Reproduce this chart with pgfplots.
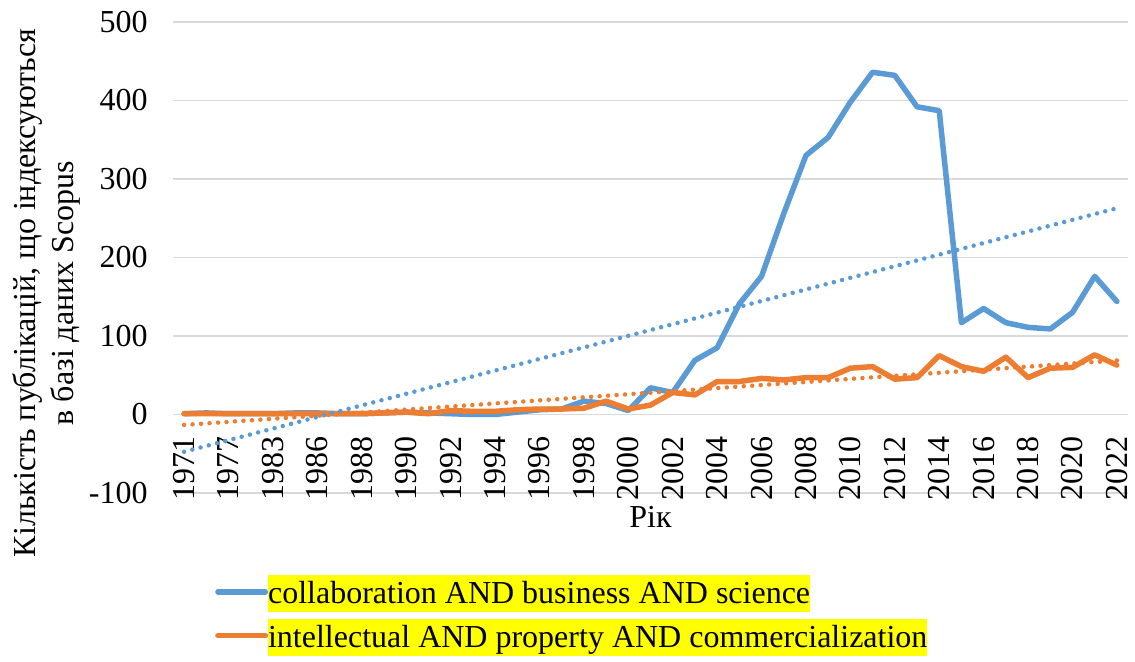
\documentclass[border=0pt]{standalone}
\usepackage{fontspec}
\setmainfont{Liberation Serif}
\usepackage{pgfplots}
\usepackage{pgfplotstable}
\pgfplotsset{compat=1.18}
\definecolor{cblue}{HTML}{5B9BD5}
\definecolor{corange}{HTML}{ED7D31}
\definecolor{cgrid}{HTML}{D9D9D9}
\definecolor{hl}{HTML}{FFFF00}
\setlength{\fboxsep}{0pt}

\pgfplotstableread{
idx year blue orange
0 1971 1 1
1 1975 2 1
2 1977 1 1
3 1980 1 1
4 1983 1 1
5 1985 2 1
6 1986 2 1
7 1987 1 1
8 1988 1 1
9 1989 2 2
10 1990 3 3
11 1991 2 1
12 1992 1 5
13 1993 0 4
14 1994 0 4
15 1995 3 6
16 1996 6 7
17 1997 7 7
18 1998 17 8
19 1999 14 17
20 2000 5 7
21 2001 34 12
22 2002 28 28
23 2003 69 25
24 2004 85 42
25 2005 141 42
26 2006 176 46
27 2007 256 44
28 2008 330 47
29 2009 353 47
30 2010 398 59
31 2011 436 61
32 2012 432 45
33 2013 392 47
34 2014 387 75
35 2015 117 61
36 2016 135 55
37 2017 117 73
38 2018 111 47
39 2019 109 59
40 2020 130 60
41 2021 176 76
42 2022 144 63
}\data

\begin{document}
\fontsize{16}{19}\selectfont
\begin{tikzpicture}
\useasboundingbox (-86.5pt,-84.5pt) rectangle (481pt,246.5pt);
\begin{axis}[
  anchor=south west, at={(0,0)},
  scale only axis, width=477.5pt, height=235.5pt,
  xmin=-0.5, xmax=42.5, ymin=-100, ymax=500,
  axis x line*=middle, axis y line*=left,
  hide obscured y ticks=false,
  x axis line style={draw=cgrid, line width=0.9pt},
  y axis line style={draw=none},
  major tick length=0pt,
  xtick={0,2,...,42},
  xticklabels={1971,1977,1983,1986,1988,1990,1992,1994,1996,1998,2000,2002,2004,2006,2008,2010,2012,2014,2016,2018,2020,2022},
  xticklabel style={yshift=-11pt, rotate=90, anchor=east, inner sep=0pt},
  ytick={-100,0,...,500},
  yticklabel style={anchor=east, inner sep=0pt, xshift=-12.5pt, /pgf/number format/assume math mode=true},
  ymajorgrids, grid style={draw=cgrid, line width=0.9pt},
  xlabel={Рік},
  xlabel style={at={(axis description cs:0.5,0)}, anchor=base, yshift=-17.5pt, inner sep=0pt},
  legend style={at={(axis description cs:0,0)}, anchor=north west, xshift=20.9pt, yshift=-41pt,
    draw=none, fill=none, inner sep=0pt, row sep=5.5pt,
    nodes={inner sep=0pt},
    /tikz/every even column/.append style={column sep=3.9pt}},
  legend cell align=left,
  legend image code/.code={\draw[#1, line cap=round] (0pt,0pt) -- (23.7pt,0pt);},
]
\addplot[cblue, line width=2.75pt, line join=round, line cap=round] table[x=idx, y=blue] {\data};
\addlegendentry{\colorbox{hl}{\rule[-4.5pt]{0pt}{18.5pt}collaboration AND business AND science}}
\addplot[corange, line width=2.75pt, line join=round, line cap=round] table[x=idx, y=orange] {\data};
\addlegendentry{\colorbox{hl}{\rule[-4.5pt]{0pt}{18.5pt}intellectual AND property AND commercialization}}
\addplot[cblue, line width=2.25pt, line cap=round, dash pattern=on 0pt off 4.25pt, forget plot] table[x=idx, y={create col/linear regression={y=blue}}] {\data};
\addplot[corange, line width=2.25pt, line cap=round, dash pattern=on 0pt off 4.25pt, forget plot] table[x=idx, y={create col/linear regression={y=orange}}] {\data};
\end{axis}
\node[rotate=90, align=center, anchor=center, inner sep=0pt] at (-63.25pt,100pt) {Кількість публікацій, що індексуються\\в базі даних Scopus};
\end{tikzpicture}
\end{document}
